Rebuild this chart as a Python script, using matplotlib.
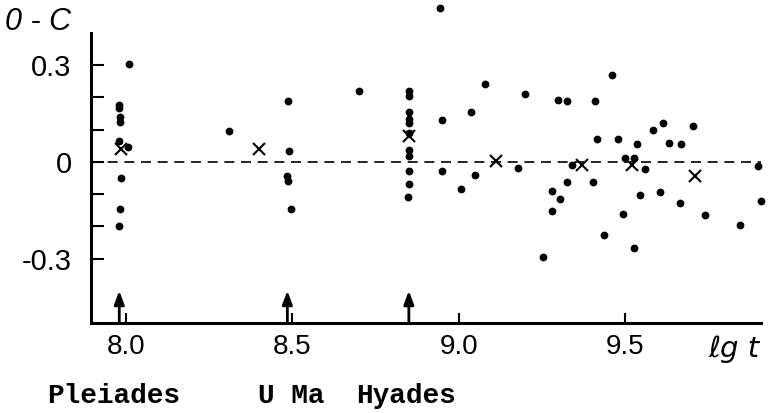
import matplotlib
matplotlib.use("Agg")
import matplotlib.pyplot as plt

# ---- data ----
dot_x = [8.008, 7.980, 7.980, 7.982, 7.982, 7.980, 8.005, 7.985, 7.983, 7.978,
         8.310, 8.487, 8.490, 8.485, 8.487, 8.495, 8.700,
         8.849, 8.849, 8.849, 8.850, 8.850, 8.849, 8.849, 8.849, 8.850, 8.849, 8.848,
         8.943, 8.949, 8.951, 9.038, 9.006, 9.049, 9.079, 9.177, 9.200, 9.459,
         9.299, 9.326, 9.408, 9.414, 9.479, 9.535, 9.341, 9.498, 9.525, 9.560,
         9.326, 9.404, 9.279, 9.303, 9.279, 9.544, 9.492, 9.435, 9.526, 9.254,
         9.583, 9.614, 9.705, 9.632, 9.669, 9.900, 9.604, 9.665, 9.740, 9.844, 9.907]
dot_y = [0.305, 0.178, 0.168, 0.138, 0.123, 0.065, 0.047, -0.051, -0.146, -0.200,
         0.097, 0.190, 0.034, -0.044, -0.059, -0.146, 0.220,
         0.220, 0.205, 0.154, 0.133, 0.121, 0.090, 0.036, 0.019, -0.028, -0.070, -0.110,
         0.478, 0.130, -0.028, 0.156, -0.085, -0.042, 0.243, -0.020, 0.210, 0.269,
         0.193, 0.188, 0.188, 0.071, 0.071, 0.057, -0.010, 0.013, 0.013, -0.023,
         -0.061, -0.061, -0.090, -0.114, -0.153, -0.104, -0.161, -0.228, -0.266, -0.296,
         0.100, 0.120, 0.110, 0.058, 0.055, -0.012, -0.092, -0.127, -0.164, -0.195, -0.122]

mean_x = [7.985, 8.400, 8.850, 9.113, 9.371, 9.520, 9.710]
mean_y = [0.040, 0.040, 0.080, 0.003, -0.010, -0.009, -0.044]

cluster_x = [7.980, 8.485, 8.850]
cluster_names = ["Pleiades", "U Ma", "Hyades"]

x_ticks = [8.0, 8.5, 9.0, 9.5]
x_ticklabels = ["8.0", "8.5", "9.0", "9.5"]
y_ticks = [-0.3, -0.2, -0.1, 0.0, 0.1, 0.2, 0.3]
y_ticklabels = ["-0.3", "", "", "0", "", "", "0.3"]

# ---- figure ----
fig = plt.figure(figsize=(7.69, 4.13), dpi=100)
ax = fig.add_axes([0.1183, 0.2179, 0.9896 - 0.1183, 0.9201 - 0.2179])
ax.set_xlim(7.895, 9.908)
ax.set_ylim(-0.5, 0.4)

for s in ("top", "right"):
    ax.spines[s].set_visible(False)
for s in ("left", "bottom"):
    ax.spines[s].set_linewidth(2.2)

ax.axhline(0, color="black", lw=1.2, ls=(0, (6, 4)), zorder=1)

ax.plot(dot_x, dot_y, "o", color="black", ms=4.6, mec="black", clip_on=False, zorder=3)
ax.plot(mean_x, mean_y, "x", color="black", ms=8.5, mew=1.5, clip_on=False, zorder=4)

for cx in cluster_x:
    ax.annotate("", xy=(cx, -0.40), xytext=(cx, -0.5),
                arrowprops=dict(arrowstyle="-|>,head_width=0.3,head_length=0.8",
                                color="black", lw=2.0, shrinkA=0, shrinkB=0),
                zorder=5)

ax.set_xticks(x_ticks)
ax.set_xticklabels(x_ticklabels, fontsize=20, family="Liberation Sans")
ax.set_yticks(y_ticks)
ax.set_yticklabels(y_ticklabels, fontsize=21, family="Liberation Sans")
ax.tick_params(axis="y", direction="in", length=9, width=1.5, pad=14)
ax.tick_params(axis="x", direction="in", length=7, width=1.5, pad=8)

fig.text(0.007, 0.947, "0 - C", fontsize=22, style="italic", ha="left", va="center",
         family="Liberation Sans")
fig.text(0.988, 0.155, "ℓg t", fontsize=21, style="italic", ha="right", va="center")

name_px = [114, 291, 406]
for nm, xp in zip(cluster_names, name_px):
    fig.text(xp / 769, 0.042, nm, fontsize=20, family="Liberation Mono",
             weight="bold", ha="center", va="center")

fig.savefig("out.png", dpi=100)
